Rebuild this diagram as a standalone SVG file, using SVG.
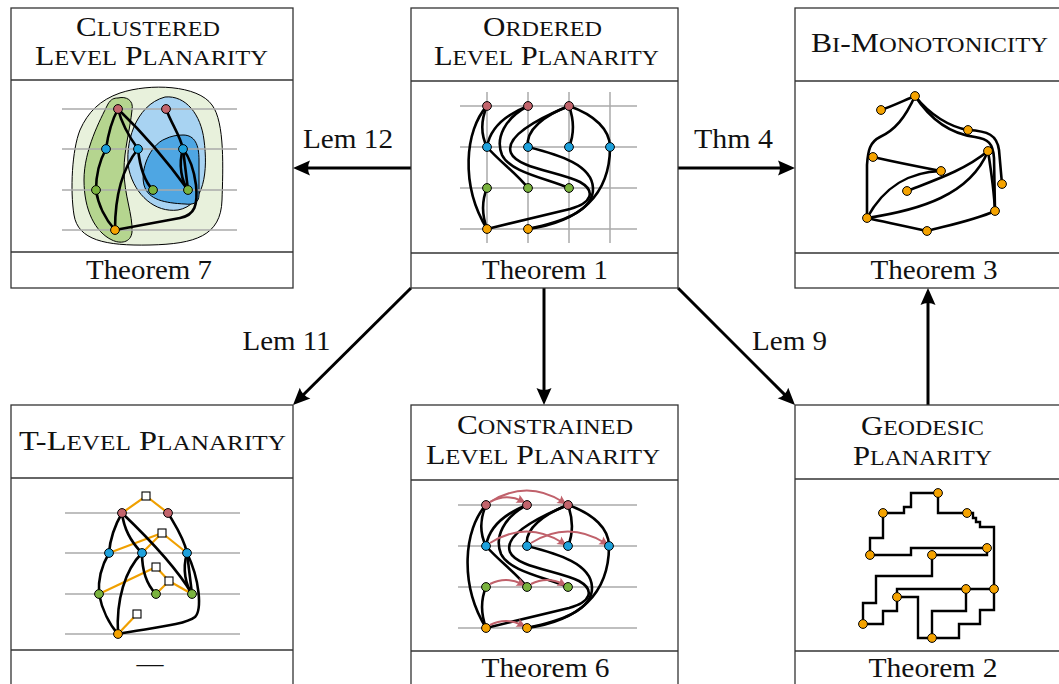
<svg xmlns="http://www.w3.org/2000/svg" width="1059" height="684" viewBox="0 0 1059 684">
  <style>
    .box { fill: #ffffff; stroke: #333333; stroke-width: 1.3; }
    .sep { stroke: #333333; stroke-width: 1.3; fill: none; }
    .title { font-family: "Liberation Serif", "DejaVu Serif", serif; font-size: 27px; fill: #111111; text-anchor: middle; }
    .sc { font-size: 21px; }
    .foot { font-family: "Liberation Serif", "DejaVu Serif", serif; font-size: 27px; fill: #111111; text-anchor: middle; }
    .lbl { font-family: "Liberation Serif", "DejaVu Serif", serif; font-size: 27px; fill: #111111; text-anchor: middle; }
    .conn { stroke: #000000; stroke-width: 3; fill: none; marker-end: url(#head); }
    .grid { stroke: #aaaaaa; stroke-width: 1.5; fill: none; }
    .e { stroke: #000000; stroke-width: 2.6; fill: none; stroke-linecap: round; }
    .ge { stroke: #000000; stroke-width: 2.4; fill: none; stroke-linejoin: miter; }
    .tree { stroke: #f0a000; stroke-width: 2.2; fill: none; }
    .cons { stroke: #c0616b; stroke-width: 2; fill: none; marker-end: url(#chead); }
    .sq { fill: #ffffff; stroke: #000000; stroke-width: 1.1; }
    .v { stroke: #000000; stroke-width: 1; }
    .r { fill: #c2646c; }
    .b { fill: #1ea1dc; }
    .g { fill: #7ab33e; }
    .o { fill: #f5a300; }
  </style>
  <defs>
    <marker id="head" markerUnits="userSpaceOnUse" viewBox="-8 -8 20 16" refX="0" refY="0" markerWidth="20" markerHeight="16" orient="auto">
      <path d="M10,0 L-7,-7.5 Q-3,0 -7,7.5 Z" fill="#000000"/>
    </marker>
    <marker id="chead" markerUnits="userSpaceOnUse" viewBox="-6 -5 12 10" refX="0" refY="0" markerWidth="12" markerHeight="10" orient="auto">
      <path d="M4,0 L-5,-4.5 Q-2.5,0 -5,4.5 Z" fill="#c0616b"/>
    </marker>
    <!-- shared edge drawing of the level graph (ordered / constrained) -->
    <g id="sgraph">
      <path class="e" d="M487,106 C481,120 481,135 487,147"/>
      <path class="e" d="M487,106 C465,130 460,185 487,229"/>
      <path class="e" d="M528,106 C505,115 490,128 487,147"/>
      <path class="e" d="M569,106 C545,115 525,130 528,147"/>
      <path class="e" d="M569,106 C574,120 574,135 569,147"/>
      <path class="e" d="M569,106 C595,115 610,130 610,147"/>
      <path class="e" d="M487,147 C500,162 515,172 528,188"/>
      <path class="e" d="M487,188 C482,200 482,215 487,229"/>
      <path class="e" d="M610,147 C610,195 580,222 528,229"/>
      <!-- three nested S-curves -->
      <path class="e" d="M528,106 C505,118 495,138 502,155 C510,172 545,178 569,188"/>
      <path class="e" d="M569,106 C530,122 505,138 511,153 C517,168 560,172 580,182 C596,191 592,203 570,209 L487,229"/>
      <path class="e" d="M528,147 C560,155 592,165 593,188 C594,212 560,222 528,229"/>
    </g>
    <g id="snodes">
      <g class="v r"><circle cx="487" cy="106" r="4.4"/><circle cx="528" cy="106" r="4.4"/><circle cx="569" cy="106" r="4.4"/></g>
      <g class="v b"><circle cx="487" cy="147" r="4.4"/><circle cx="528" cy="147" r="4.4"/><circle cx="569" cy="147" r="4.4"/><circle cx="610" cy="147" r="4.4"/></g>
      <g class="v g"><circle cx="487" cy="188" r="4.4"/><circle cx="528" cy="188" r="4.4"/><circle cx="569" cy="188" r="4.4"/></g>
      <g class="v o"><circle cx="487" cy="229" r="4.4"/><circle cx="528" cy="229" r="4.4"/></g>
    </g>
  </defs>

  <!-- connectors between problems -->
  <g id="connectors">
    <path class="conn" d="M411,168 H303"/>
    <path class="conn" d="M678,168 H785"/>
    <path class="conn" d="M544,288 V395"/>
    <path class="conn" d="M928,405 V298"/>
    <path class="conn" d="M411,288 L300.1,398"/>
    <path class="conn" d="M678,288 L787.9,397.9"/>
    <text class="lbl" x="348" y="148" textLength="90" lengthAdjust="spacingAndGlyphs">Lem 12</text>
    <text class="lbl" x="733.5" y="148" textLength="79" lengthAdjust="spacingAndGlyphs">Thm 4</text>
    <text class="lbl" x="286.5" y="350" textLength="88" lengthAdjust="spacingAndGlyphs">Lem 11</text>
    <text class="lbl" x="789.5" y="350" textLength="75" lengthAdjust="spacingAndGlyphs">Lem 9</text>
  </g>

  <!-- Clustered Level Planarity -->
  <g id="clustered">
    <rect class="box" x="11" y="8" width="282" height="280"/>
    <line class="sep" x1="11" y1="80" x2="293" y2="80"/>
    <line class="sep" x1="11" y1="252" x2="293" y2="252"/>
    <text class="title" x="148" y="36" textLength="144" lengthAdjust="spacingAndGlyphs">C<tspan class="sc">LUSTERED</tspan></text>
    <text class="title" x="151.5" y="65" textLength="233" lengthAdjust="spacingAndGlyphs">L<tspan class="sc">EVEL</tspan> P<tspan class="sc">LANARITY</tspan></text>
    <text class="foot" x="149" y="279" textLength="126" lengthAdjust="spacingAndGlyphs">Theorem 7</text>
    <path d="M120,93 C150,83 198,85 212,105 C225,122 223,170 222,200 C221,236 195,244 150,245 C105,246 78,240 74,215 C70,190 72,150 80,130 C88,112 100,100 120,93 Z" fill="#e8f1dc" stroke="#000" stroke-width="1"/>
    <path d="M118,98 C126,96 134,100 132,110 C130,130 124,150 124,170 C124,195 133,215 132,232 C131,243 120,244 112,240 C95,232 84,210 84,180 C84,150 100,120 108,104 C111,99 114,98 118,98 Z" fill="#b5d58f" stroke="#000" stroke-width="1"/>
    <path d="M165,97 C186,95 201,115 204,140 C208,170 205,205 178,210 C155,213 135,195 129,170 C124,145 135,105 165,97 Z" fill="#a8d3f2" stroke="#000" stroke-width="1"/>
    <path d="M183,135 C195,135 199,145 199,160 L199,195 C199,203 193,205 185,204 C165,203 148,200 144,185 C140,170 150,145 165,139 C171,136 177,135 183,135 Z" fill="#4ea6e3" stroke="#000" stroke-width="1"/>
    <g class="grid">
      <line x1="62" y1="109" x2="237" y2="109"/>
      <line x1="62" y1="149" x2="237" y2="149"/>
      <line x1="62" y1="190" x2="237" y2="190"/>
      <line x1="62" y1="230" x2="237" y2="230"/>
    </g>
    <path class="e" d="M118,109 C112,120 108,135 106,149"/>
    <path class="e" d="M106,149 C100,160 96,175 96,190"/>
    <path class="e" d="M96,190 C98,205 106,220 115,230"/>
    <path class="e" d="M118,109 C122,125 130,138 138,149"/>
    <path class="e" d="M138,149 C140,168 145,182 153,190"/>
    <path class="e" d="M118,109 C145,135 170,165 188,190"/>
    <path class="e" d="M166,109 C172,125 180,135 183,149"/>
    <path class="e" d="M183,149 L188,190"/>
    <path class="e" d="M183,149 C178,165 182,182 188,190"/>
    <path class="e" d="M138,149 C125,165 115,190 115,230"/>
    <path class="e" d="M115,230 L180,218 C195,215 198,205 196,185 C194,170 190,158 183,149"/>
    <g class="v r"><circle cx="118" cy="109" r="4.4"/><circle cx="166" cy="109" r="4.4"/></g>
    <g class="v b"><circle cx="106" cy="149" r="4.4"/><circle cx="138" cy="149" r="4.4"/><circle cx="183" cy="149" r="4.4"/></g>
    <g class="v g"><circle cx="96" cy="190" r="4.4"/><circle cx="153" cy="190" r="4.4"/><circle cx="188" cy="190" r="4.4"/></g>
    <g class="v o"><circle cx="115" cy="230" r="4.4"/></g>
  </g>

  <!-- Ordered Level Planarity -->
  <g id="ordered">
    <rect class="box" x="411" y="8" width="267" height="280"/>
    <line class="sep" x1="411" y1="81" x2="678" y2="81"/>
    <line class="sep" x1="411" y1="253" x2="678" y2="253"/>
    <text class="title" x="542.5" y="36" textLength="119" lengthAdjust="spacingAndGlyphs">O<tspan class="sc">RDERED</tspan></text>
    <text class="title" x="546.5" y="65" textLength="225" lengthAdjust="spacingAndGlyphs">L<tspan class="sc">EVEL</tspan> P<tspan class="sc">LANARITY</tspan></text>
    <text class="foot" x="545" y="279" textLength="126" lengthAdjust="spacingAndGlyphs">Theorem 1</text>
    <g class="grid">
      <line x1="487" y1="92" x2="487" y2="243"/>
      <line x1="528" y1="92" x2="528" y2="243"/>
      <line x1="569" y1="92" x2="569" y2="243"/>
      <line x1="610" y1="92" x2="610" y2="243"/>
      <line x1="460" y1="106" x2="637" y2="106"/>
      <line x1="460" y1="147" x2="637" y2="147"/>
      <line x1="460" y1="188" x2="637" y2="188"/>
      <line x1="460" y1="229" x2="637" y2="229"/>
    </g>
    <use href="#sgraph"/>
    <use href="#snodes"/>
  </g>

  <!-- Bi-Monotonicity -->
  <g id="bimono">
    <rect class="box" x="795" y="8" width="280" height="280"/>
    <line class="sep" x1="795" y1="81" x2="1075" y2="81"/>
    <line class="sep" x1="795" y1="253" x2="1075" y2="253"/>
    <text class="title" x="929.5" y="52" textLength="237" lengthAdjust="spacingAndGlyphs">B<tspan class="sc">I</tspan>-M<tspan class="sc">ONOTONICITY</tspan></text>
    <text class="foot" x="934" y="279" textLength="127" lengthAdjust="spacingAndGlyphs">Theorem 3</text>
    <path class="e" d="M881,110 C893,106 905,100 915,96"/>
    <path class="e" d="M915,96 C905,118 895,130 880,137 C870,142 868,150 867,165 L867,218"/>
    <path class="e" d="M873,157 C895,162 920,167 941,171"/>
    <path class="e" d="M941,171 C910,172 885,185 867,218"/>
    <path class="e" d="M907,191 C935,180 965,170 988,151"/>
    <path class="e" d="M867,218 C920,210 970,195 988,151"/>
    <path class="e" d="M867,218 C885,222 905,226 927,231"/>
    <path class="e" d="M927,231 C950,225 975,220 995,211"/>
    <path class="e" d="M988,151 C991,170 994,190 995,211"/>
    <path class="e" d="M915,96 C930,115 950,127 968,130"/>
    <path class="e" d="M968,130 C988,131 997,135 999,150 L1002,184"/>
    <path class="e" d="M915,96 C932,122 952,134 975,137 C988,139 993,143 994,158 L995,211"/>
    <g class="v o">
      <circle cx="915" cy="96" r="4.4"/><circle cx="881" cy="110" r="4.4"/><circle cx="968" cy="130" r="4.4"/>
      <circle cx="988" cy="151" r="4.4"/><circle cx="873" cy="157" r="4.4"/><circle cx="941" cy="171" r="4.4"/>
      <circle cx="1002" cy="184" r="4.4"/><circle cx="907" cy="191" r="4.4"/><circle cx="995" cy="211" r="4.4"/>
      <circle cx="867" cy="218" r="4.4"/><circle cx="927" cy="231" r="4.4"/>
    </g>
  </g>

  <!-- T-Level Planarity -->
  <g id="tlevel">
    <rect class="box" x="11" y="405" width="282" height="290"/>
    <line class="sep" x1="11" y1="478" x2="293" y2="478"/>
    <line class="sep" x1="11" y1="650" x2="293" y2="650"/>
    <text class="title" x="152.5" y="450" textLength="267" lengthAdjust="spacingAndGlyphs">T-L<tspan class="sc">EVEL</tspan> P<tspan class="sc">LANARITY</tspan></text>
    <text class="foot" x="150" y="672">—</text>
    <g class="grid">
      <line x1="65" y1="513" x2="240" y2="513"/>
      <line x1="65" y1="553" x2="240" y2="553"/>
      <line x1="65" y1="594" x2="240" y2="594"/>
      <line x1="65" y1="634" x2="240" y2="634"/>
    </g>
    <g class="tree">
      <polyline points="122,513 146,496 168,513"/>
      <line x1="109" y1="553" x2="162" y2="533"/>
      <line x1="142" y1="553" x2="162" y2="533"/>
      <line x1="162" y1="533" x2="187" y2="553"/>
      <line x1="99" y1="594" x2="156" y2="567"/>
      <line x1="156" y1="567" x2="169" y2="581"/>
      <line x1="169" y1="581" x2="156" y2="594"/>
      <line x1="169" y1="581" x2="192" y2="594"/>
      <line x1="118" y1="634" x2="137" y2="614"/>
    </g>
    <path class="e" d="M122,513 C115,525 110,540 109,553"/>
    <path class="e" d="M122,513 C124,530 132,543 142,553"/>
    <path class="e" d="M122,513 C145,535 175,565 192,594"/>
    <path class="e" d="M168,513 C175,525 184,538 187,553"/>
    <path class="e" d="M187,553 L192,594"/>
    <path class="e" d="M187,553 C182,570 186,585 192,594"/>
    <path class="e" d="M109,553 C102,565 98,580 99,594"/>
    <path class="e" d="M99,594 C102,610 110,625 118,634"/>
    <path class="e" d="M142,553 C142,570 147,585 156,594"/>
    <path class="e" d="M142,553 C125,570 116,600 118,634"/>
    <path class="e" d="M118,634 C150,628 185,625 195,617 C202,610 200,580 187,553"/>
    <g>
      <rect class="sq" x="142" y="492" width="8" height="8"/>
      <rect class="sq" x="158" y="529" width="8" height="8"/>
      <rect class="sq" x="152" y="563" width="8" height="8"/>
      <rect class="sq" x="165" y="577" width="8" height="8"/>
      <rect class="sq" x="133" y="610" width="8" height="8"/>
    </g>
    <g class="v r"><circle cx="122" cy="513" r="4.4"/><circle cx="168" cy="513" r="4.4"/></g>
    <g class="v b"><circle cx="109" cy="553" r="4.4"/><circle cx="142" cy="553" r="4.4"/><circle cx="187" cy="553" r="4.4"/></g>
    <g class="v g"><circle cx="99" cy="594" r="4.4"/><circle cx="156" cy="594" r="4.4"/><circle cx="192" cy="594" r="4.4"/></g>
    <g class="v o"><circle cx="118" cy="634" r="4.4"/></g>
  </g>

  <!-- Constrained Level Planarity -->
  <g id="constrained">
    <rect class="box" x="411" y="405" width="267" height="290"/>
    <line class="sep" x1="411" y1="480" x2="678" y2="480"/>
    <line class="sep" x1="411" y1="651" x2="678" y2="651"/>
    <text class="title" x="545" y="434" textLength="176" lengthAdjust="spacingAndGlyphs">C<tspan class="sc">ONSTRAINED</tspan></text>
    <text class="title" x="543" y="464" textLength="234" lengthAdjust="spacingAndGlyphs">L<tspan class="sc">EVEL</tspan> P<tspan class="sc">LANARITY</tspan></text>
    <text class="foot" x="545.5" y="677" textLength="128" lengthAdjust="spacingAndGlyphs">Theorem 6</text>
    <g class="grid">
      <line x1="458" y1="505" x2="637" y2="505"/>
      <line x1="458" y1="546" x2="637" y2="546"/>
      <line x1="458" y1="587" x2="637" y2="587"/>
      <line x1="458" y1="628" x2="637" y2="628"/>
    </g>
    <use href="#sgraph" transform="translate(-1,399)"/>
    <g>
      <path class="cons" d="M490,502 Q506,493 522,501"/>
      <path class="cons" d="M490,502 Q527,479 563,502"/>
      <path class="cons" d="M490,543 Q527,520 563,543"/>
      <path class="cons" d="M531,543 Q568,520 605,543"/>
      <path class="cons" d="M490,584 Q506,576 522,584"/>
      <path class="cons" d="M531,584 Q547,576 563,584"/>
      <path class="cons" d="M490,625 Q506,617 522,625"/>
    </g>
    <use href="#snodes" transform="translate(-1,399)"/>
  </g>

  <!-- Geodesic Planarity -->
  <g id="geodesic">
    <rect class="box" x="795" y="405" width="280" height="290"/>
    <line class="sep" x1="795" y1="479" x2="1075" y2="479"/>
    <line class="sep" x1="795" y1="651" x2="1075" y2="651"/>
    <text class="title" x="922.5" y="435" textLength="123" lengthAdjust="spacingAndGlyphs">G<tspan class="sc">EODESIC</tspan></text>
    <text class="title" x="922.5" y="465" textLength="139" lengthAdjust="spacingAndGlyphs">P<tspan class="sc">LANARITY</tspan></text>
    <text class="foot" x="933" y="677" textLength="129" lengthAdjust="spacingAndGlyphs">Theorem 2</text>
    <g class="ge">
      <path d="M938,493 H911 V507 H904 V513 H883"/>
      <path d="M938,493 V513 H967"/>
      <path d="M967,513 H973 V518 H976 V522 H980 V527 H994 V589"/>
      <path d="M883,513 V538 H870 V555"/>
      <path d="M870,555 H911 V548 H987"/>
      <path d="M932,555 H987 V548"/>
      <path d="M932,555 V576 H876 V603 H863 V624"/>
      <path d="M863,624 H883 V611 H897 V597"/>
      <path d="M897,597 V589 H994"/>
      <path d="M897,597 H918 V638 H932"/>
      <path d="M966,589 V611 H932 V638"/>
      <path d="M932,638 H959 V624 H980 V610 H994 V589"/>
    </g>
    <g class="v o">
      <circle cx="938" cy="493" r="4.4"/><circle cx="883" cy="513" r="4.4"/><circle cx="967" cy="513" r="4.4"/>
      <circle cx="987" cy="548" r="4.4"/><circle cx="870" cy="555" r="4.4"/><circle cx="932" cy="555" r="4.4"/>
      <circle cx="966" cy="589" r="4.4"/><circle cx="994" cy="589" r="4.4"/><circle cx="897" cy="597" r="4.4"/>
      <circle cx="863" cy="624" r="4.4"/><circle cx="932" cy="638" r="4.4"/>
    </g>
  </g>
</svg>
